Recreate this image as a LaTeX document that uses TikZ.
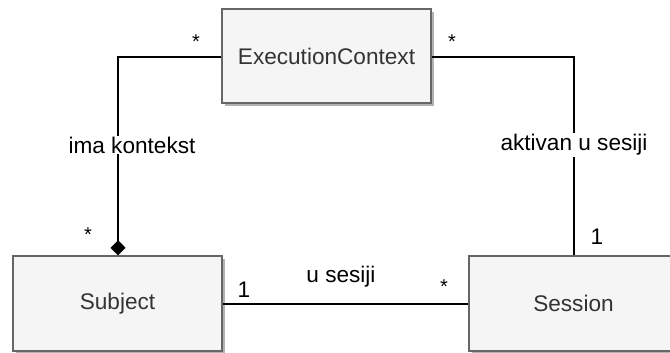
\documentclass[tikz,border=0pt]{standalone}
\usepackage{fontspec}
\setmainfont{Liberation Sans}
\usetikzlibrary{arrows.meta}
\definecolor{boxfill}{HTML}{F5F5F5}
\definecolor{boxdraw}{HTML}{666666}
\definecolor{boxtext}{HTML}{333333}
\begin{document}
\begin{tikzpicture}[x=1pt,y=-1pt,
  umlbox/.style={draw=boxdraw,fill=boxfill,line width=1.5pt,text=boxtext,
    font=\fontsize{22.6}{26}\selectfont,
    inner sep=0pt},
  lab/.style={font=\fontsize{22.6}{26}\selectfont,text=black,inner sep=1pt},
  star/.style={font=\fontsize{20}{22}\selectfont,text=black,inner sep=0pt},
  conn/.style={draw=black,line width=1.5pt}]
\useasboundingbox (0,0) rectangle (670,353);
% shadows
\fill[black!30] (225,12) rectangle (434,106);
\fill[black!30] (16,259) rectangle (225,356);
\fill[black!30] (472,259) rectangle (681,356);
% boxes
\node[umlbox,minimum width=209pt,minimum height=94pt] (ec) at (326.5,56) {ExecutionContext};
\node[umlbox,minimum width=209pt,minimum height=95pt] (subj) at (117.5,303.5) {Subject};
\node[umlbox,minimum width=209pt,minimum height=95pt] (sess) at (573.5,303.5) {Session};
% connectors
\coordinate (lc) at (118,57);
\coordinate (rc) at (574,57);
\draw[conn,-{Diamond[length=15pt,width=15pt]}] (ec.west |- lc) -- (lc) -- (subj.north -| lc);
\draw[conn] (ec.east |- rc) -- (rc) -- (sess.north -| rc);
\draw[conn] (subj.east |- 0,304) -- (sess.west |- 0,304);
% labels
\node[lab,fill=white] (l1) at (132,145) {ima kontekst};
\node[lab,fill=white] (l2) at (574,145) {aktivan u sesiji};
\node[lab] (l3) at (341,277) {u sesiji};
\node[star] (s1) at (196,42) {*};
\node[star] (s2) at (452,42) {*};
\node[star] (s3) at (88,235) {*};
\node[star] (s4) at (444,287) {*};
\node[lab] (n1) at (597,237) {1};
\node[lab] (n2) at (244,290) {1};
\end{tikzpicture}
\end{document}
